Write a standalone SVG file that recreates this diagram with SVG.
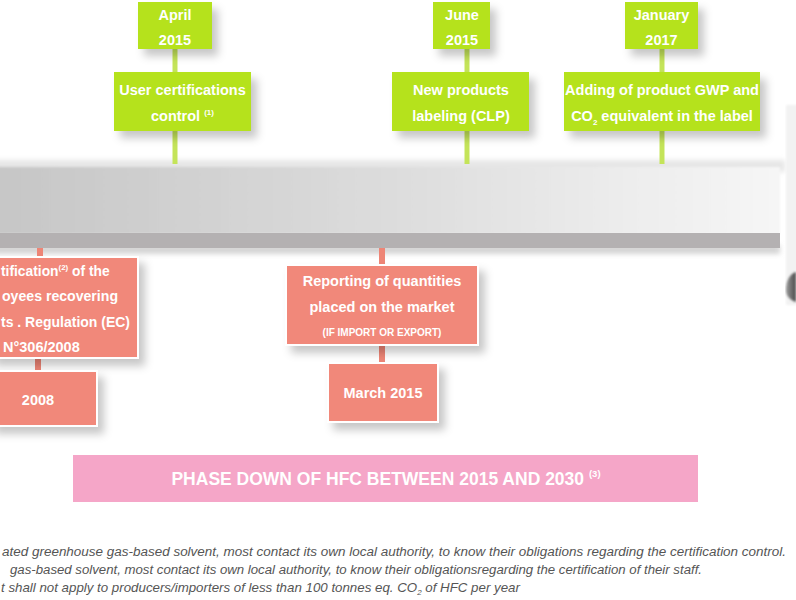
<svg xmlns="http://www.w3.org/2000/svg" width="796" height="600" viewBox="0 0 796 600">
<defs>
  <filter id="sh" x="-20%" y="-20%" width="150%" height="160%">
    <feDropShadow dx="6" dy="7" stdDeviation="4" flood-color="#000" flood-opacity="0.22"/>
  </filter>
  <filter id="blur" x="-5%" y="-50%" width="110%" height="200%">
    <feGaussianBlur stdDeviation="2.5"/>
  </filter>
  <filter id="soft" x="-5%" y="-20%" width="110%" height="140%">
    <feGaussianBlur stdDeviation="1.2"/>
  </filter>
  <linearGradient id="band" x1="0" y1="0" x2="1" y2="0">
    <stop offset="0" stop-color="#c6c6c6"/>
    <stop offset="0.5" stop-color="#dcdcdc"/>
    <stop offset="0.85" stop-color="#efefef"/>
    <stop offset="1" stop-color="#f6f6f6"/>
  </linearGradient>
  <linearGradient id="edge" x1="0" y1="0" x2="1" y2="0">
    <stop offset="0" stop-color="#9a9a9a"/>
    <stop offset="1" stop-color="#4a4a4a"/>
  </linearGradient>
  <style>
    .g{fill:#b5e21c}
    .s{fill:#f1887a;stroke:#ffffff;stroke-width:2}
    .gl{stroke:#c4e459;stroke-width:5}
    .sl{stroke:#ee8576;stroke-width:6}
    .t{font-family:"Liberation Sans",Arial,sans-serif;font-weight:bold;font-size:14.5px;fill:#ffffff;text-anchor:middle}
    .ts{text-anchor:start}
    .sm{font-size:10px}
    .sup{font-size:8px}
    .ph{font-family:"Liberation Sans",Arial,sans-serif;font-weight:bold;font-size:17.5px;fill:#ffffff;text-anchor:middle}
    .fn{font-family:"Liberation Sans",Arial,sans-serif;font-style:italic;font-size:12.5px;fill:#555555}
  </style>
</defs>
<rect width="796" height="600" fill="#ffffff"/>

<!-- timeline band -->
<g id="timeline">
  <rect x="-10" y="160" width="795" height="12" fill="#e6e6e6" filter="url(#blur)"/>
  <rect x="-10" y="167" width="790" height="67" fill="url(#band)" filter="url(#soft)"/>
  <rect x="-10" y="245" width="790" height="9" fill="#d4d4d4" filter="url(#blur)"/>
  <rect x="-10" y="233" width="790" height="15" fill="#b4b1b2"/>
  <rect x="786" y="105" width="14" height="200" fill="#f2f2f2" filter="url(#soft)"/>
  <path d="M796 272 C789 274 786 282 786 290 C786 296 790 300 796 302 Z" fill="url(#edge)" filter="url(#soft)"/>
</g>

<!-- connectors -->
<g id="connectors">
  <line class="gl" x1="175" y1="49" x2="175" y2="72"/>
  <line class="gl" x1="175" y1="131" x2="175" y2="164"/>
  <line class="gl" x1="467" y1="49" x2="467" y2="72"/>
  <line class="gl" x1="467" y1="131" x2="467" y2="164"/>
  <line class="gl" x1="662" y1="49" x2="662" y2="72"/>
  <line class="gl" x1="662" y1="131" x2="662" y2="164"/>
  <line class="sl" x1="40" y1="248" x2="40" y2="257"/>
  <line class="sl" x1="38" y1="358" x2="38" y2="371"/>
  <line class="sl" x1="382" y1="248" x2="382" y2="265"/>
  <line class="sl" x1="382" y1="345" x2="382" y2="363"/>
</g>

<!-- green nodes -->
<g id="april2015">
  <rect class="g" x="138" y="2" width="74" height="47" filter="url(#sh)"/>
  <text class="t" x="175" y="20">April</text>
  <text class="t" x="175" y="45">2015</text>
</g>
<g id="user-cert">
  <rect class="g" x="114" y="72" width="137" height="59" filter="url(#sh)"/>
  <text class="t" x="182.5" y="95">User certifications</text>
  <text class="t" x="182.5" y="121">control <tspan class="sup" dy="-6">(1)</tspan></text>
</g>
<g id="june2015">
  <rect class="g" x="433" y="2" width="57" height="47" filter="url(#sh)"/>
  <text class="t" x="462" y="20">June</text>
  <text class="t" x="462" y="45">2015</text>
</g>
<g id="new-products">
  <rect class="g" x="392" y="72" width="137" height="59" filter="url(#sh)"/>
  <text class="t" x="461" y="95">New products</text>
  <text class="t" x="461" y="121">labeling (CLP)</text>
</g>
<g id="jan2017">
  <rect class="g" x="625" y="2" width="73" height="47" filter="url(#sh)"/>
  <text class="t" x="661.5" y="20">January</text>
  <text class="t" x="661.5" y="45">2017</text>
</g>
<g id="gwp-label">
  <rect class="g" x="564" y="72" width="196" height="59" filter="url(#sh)"/>
  <text class="t" x="662" y="95">Adding of product GWP and</text>
  <text class="t" x="662" y="121">CO<tspan class="sup" dy="4">2</tspan><tspan dy="-4"> equivalent in the label</tspan></text>
</g>

<!-- salmon nodes -->
<g id="certification-2008">
  <rect class="s" x="-10" y="257" width="148" height="101" filter="url(#sh)"/>
  <text class="t ts" x="1" y="276" style="font-size:13.8px">tification<tspan class="sup" dy="-6">(2)</tspan><tspan dy="6"> of the</tspan></text>
  <text class="t ts" x="2" y="301" textLength="116" lengthAdjust="spacingAndGlyphs">oyees recovering</text>
  <text class="t ts" x="1" y="327" textLength="129" lengthAdjust="spacingAndGlyphs">ts . Regulation (EC)</text>
  <text class="t ts" x="3" y="352">N°306/2008</text>
</g>
<g id="y2008">
  <rect class="s" x="-10" y="371" width="107" height="55" filter="url(#sh)"/>
  <text class="t" x="38" y="405">2008</text>
</g>
<g id="reporting">
  <rect class="s" x="286" y="265" width="192" height="80" filter="url(#sh)"/>
  <text class="t" x="382" y="286">Reporting of quantities</text>
  <text class="t" x="382" y="312">placed on the market</text>
  <text class="t sm" x="382" y="336">(IF IMPORT OR EXPORT)</text>
</g>
<g id="march2015">
  <rect class="s" x="328" y="363" width="110" height="59" filter="url(#sh)"/>
  <text class="t" x="383" y="398">March 2015</text>
</g>

<!-- phase down -->
<g id="phase-down">
  <rect x="73" y="455" width="625" height="47" fill="#f5a6c8"/>
  <text class="ph" x="386" y="485">PHASE DOWN OF HFC BETWEEN 2015 AND 2030 <tspan font-size="9.5" dy="-8">(3)</tspan></text>
</g>

<!-- footnotes -->
<g id="footnotes">
  <text class="fn" x="2" y="556" textLength="784" lengthAdjust="spacingAndGlyphs">ated greenhouse gas-based solvent, most contact its own local authority, to know their obligations regarding the certification control.</text>
  <text class="fn" x="10" y="574" textLength="692" lengthAdjust="spacingAndGlyphs">gas-based solvent, most contact its own local authority, to know their obligationsregarding the certification of their staff.</text>
  <text class="fn" x="1" y="592" style="font-size:13.3px">t shall not apply to producers/importers of less than 100 tonnes eq. CO<tspan style="font-size:8px" dy="3">2</tspan><tspan dy="-3"> of HFC per year</tspan></text>
</g>
</svg>
